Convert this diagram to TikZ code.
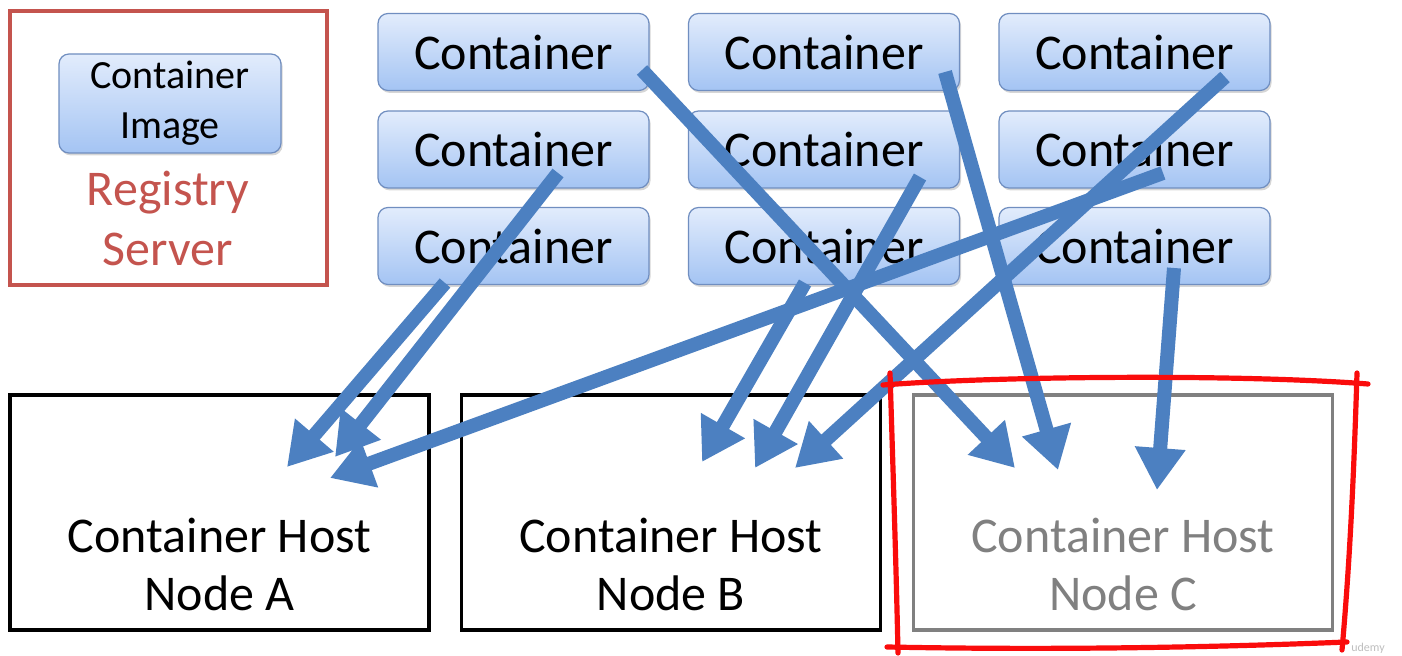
\documentclass[tikz,border=0pt]{standalone}
\usepackage{fontspec}
\setmainfont{Carlito}
\usetikzlibrary{arrows.meta,shadows}

\definecolor{flowblue}{RGB}{76,128,193}
\definecolor{regred}{RGB}{196,84,78}
\definecolor{boxtop}{RGB}{226,236,252}
\definecolor{boxbot}{RGB}{164,196,243}
\definecolor{boxline}{RGB}{112,142,192}
\definecolor{hostgray}{RGB}{128,128,128}
\definecolor{penred}{RGB}{250,12,12}

\begin{document}
\begin{tikzpicture}[x=0.5pt,y=-0.5pt,
  softshadow/.style={drop shadow={shadow xshift=0.8pt,shadow yshift=-1.2pt,opacity=0.16,fill=black}},
  ctrbox/.style={draw=boxline, line width=0.6pt, rounded corners=5pt,
    top color=boxtop, bottom color=boxbot, softshadow,
    minimum width=135.5pt, minimum height=38.5pt, inner sep=0pt,
    font=\fontsize{25}{30}\selectfont},
  imgbox/.style={ctrbox, minimum width=111pt, minimum height=49.5pt,
    align=center, font=\fontsize{20}{25}\selectfont},
  regbox/.style={draw=regred, line width=1.75pt, fill=white, softshadow,
    minimum width=158.5pt, minimum height=137pt, inner sep=0pt},
  regtext/.style={text=regred, align=center, inner sep=0pt,
    font=\fontsize{25}{30}\selectfont},
  hostbox/.style={draw=black, line width=1.75pt, fill=white, softshadow,
    minimum width=209.5pt, minimum height=117.5pt, inner sep=0pt},
  hosttext/.style={align=center, inner sep=0pt, font=\fontsize{25}{29}\selectfont},
  flow/.style={draw=flowblue, line width=7pt,
    -{Triangle[length=21pt,width=24pt]}},
  pen/.style={draw=penred, line width=2.6pt, line cap=round}
]
\useasboundingbox (0,0) rectangle (1402,656);
\fill[white] (0,0) rectangle (1402,656);

% registry server holding the image
\node[regbox] (registry) at (168.5,148) {};
\node[imgbox] (image) at (170,103.5) {\raisebox{-2pt}{Container}\\\raisebox{-2pt}{Image}};
\node[regtext] (regname) at (168,218) {Registry\\Server};

% grid of containers
\foreach \r/\y in {1/52,2/149.5,3/246}{
  \foreach \c/\x in {1/513.5,2/824,3/1134.5}{
    \node[ctrbox] (c\r\c) at (\x,\y) {Container};
  }
}

% container hosts
\node[hostbox] (hostA) at (219.5,512.5) {};
\node[hostbox] (hostB) at (671,512.5) {};
\node[hostbox, draw=hostgray] (hostC) at (1123,512.5) {};
\node[hosttext] (hostAtext) at ([shift={(0,51.5)}]hostA.center) {Container Host\\Node A};
\node[hosttext] (hostBtext) at ([shift={(0,51.5)}]hostB.center) {Container Host\\Node B};
\node[hosttext, text=hostgray] (hostCtext) at ([shift={(0,51.5)}]hostC.center) {Container Host\\Node C};

% scheduling of containers onto hosts
\draw[flow] ([shift={(-68.5,37)}]c31.center) -- ([shift={(67.5,-45.5)}]hostA.center);
\draw[flow] ([shift={(44.5,23.5)}]c21.center) -- ([shift={(115.5,-55.5)}]hostA.center);
\draw[flow] ([shift={(28.5,23.5)}]c23.center) -- ([shift={(110.5,-34.5)}]hostA.center);
\draw[flow] ([shift={(-19,37)}]c32.center) -- ([shift={(31,-50.5)}]hostB.center);
\draw[flow] ([shift={(96,27.5)}]c22.center) -- ([shift={(84,-44.5)}]hostB.center);
\draw[flow] ([shift={(90.5,25)}]c13.center) -- ([shift={(124,-44.5)}]hostB.center);
\draw[flow] ([shift={(128.5,18)}]c11.center) -- ([shift={(-108,-44.5)}]hostC.center);
\draw[flow] ([shift={(121,20)}]c12.center) -- ([shift={(-65,-42.5)}]hostC.center);
\draw[flow] ([shift={(39.5,22)}]c33.center) -- ([shift={(34,-22.5)}]hostC.center);

% hand-drawn highlight around node C
\draw[pen] (883,385) .. controls (1000,376) and (1240,374) .. (1368,384);
\draw[pen] (890,373) .. controls (893,470) and (896,560) .. (898,653);
\draw[pen] (1357,373) .. controls (1354,470) and (1350,560) .. (1342,650);
\draw[pen] (887,647) .. controls (1040,650) and (1200,648) .. (1347,642);

% watermark
\node[text=black!25, font=\fontsize{6}{7}\selectfont, inner sep=0pt] (mark) at (1368,648) {udemy};
\end{tikzpicture}
\end{document}
